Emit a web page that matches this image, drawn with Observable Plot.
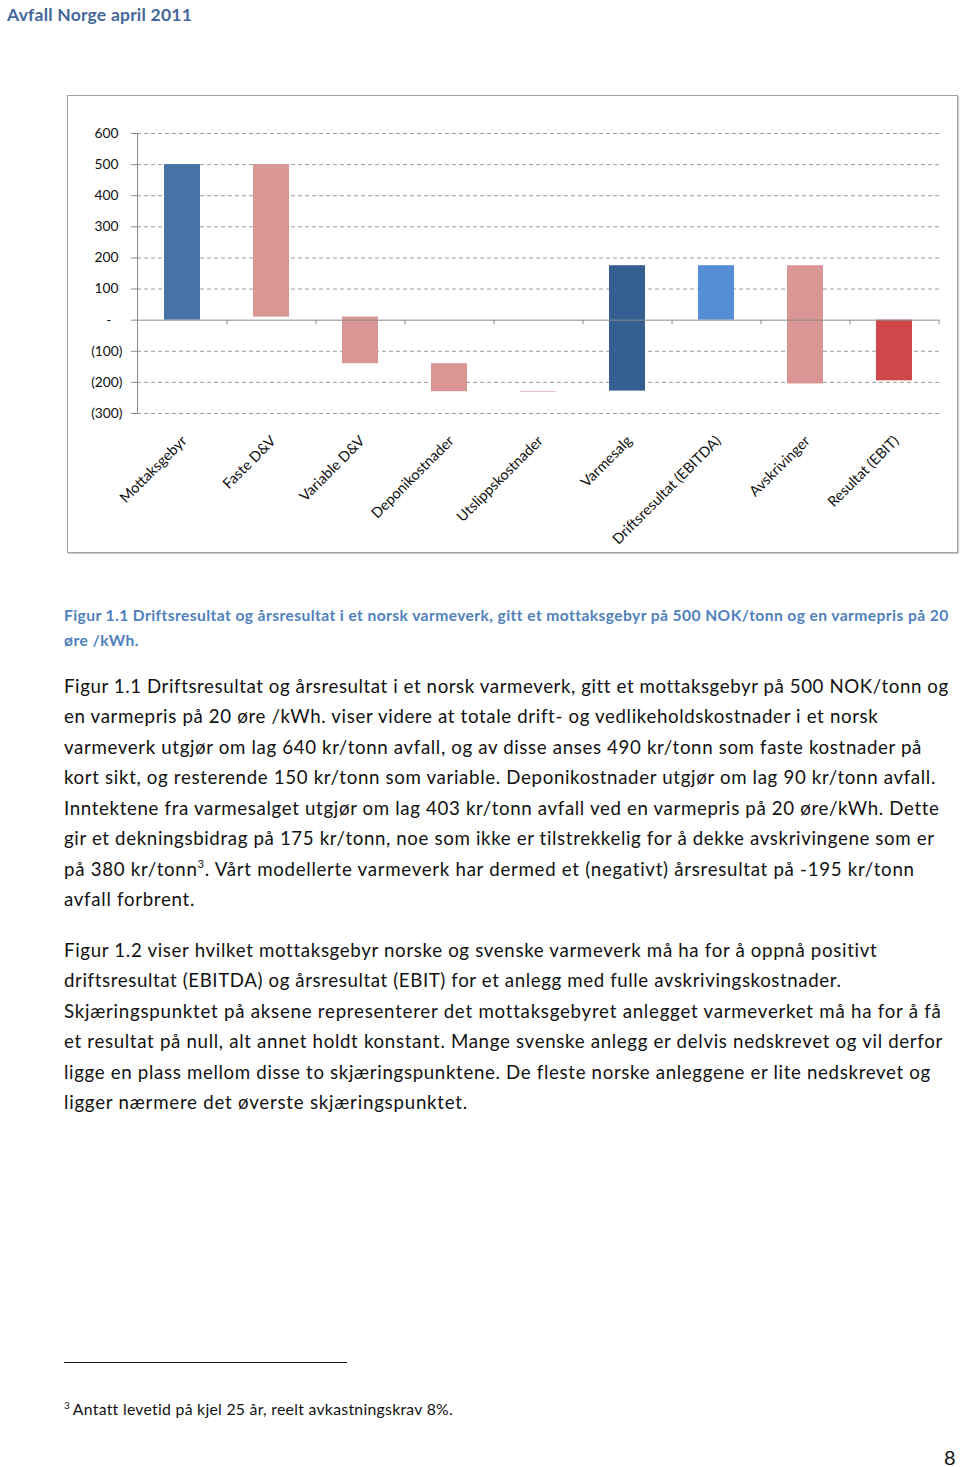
<!DOCTYPE html>
<html>
<head>
<meta charset="utf-8">
<script src="https://cdn.jsdelivr.net/npm/d3@7"></script>
<script src="https://cdn.jsdelivr.net/npm/@observablehq/plot@0.6"></script>
<style>
  html, body { margin: 0; padding: 0; background: #fff; }
  body { width: 960px; height: 1467px; position: relative; overflow: hidden; font-family: Lato, "Open Sans", sans-serif; color: #111; }
  .abs { position: absolute; }
  .ln { display: block; white-space: nowrap; }
  #header { left: 7px; top: 1px; font-size: 17.5px; font-weight: bold; color: #44679b; line-height: 28px; }
  #frame { left: 67px; top: 95px; width: 889px; height: 456px; border: 1px solid #a3a3a3; box-shadow: 1px 1px 1px #d0d0d0; }
  #frame svg { display: block; }
  #caption { left: 64px; top: 602.5px; font-size: 15.6px; font-weight: bold; color: #4f81bd; line-height: 25px; }
  .para { left: 64px; font-size: 18.7px; line-height: 30.5px; }
  #p1 { top: 670.7px; }
  #p2 { top: 934.8px; }
  sup { font-size: 0.6em; line-height: 0; vertical-align: 0.7em; }
  #rule { left: 64px; top: 1362px; width: 283px; border-top: 1.3px solid #111; }
  #foot { left: 64px; top: 1398px; font-size: 15.8px; line-height: 22px; }
  #page { left: 944px; top: 1444px; font-size: 20px; line-height: 26px; }
</style>
</head>
<body>
<div id="header" class="abs"><span class="ln" data-w="185"><span>Avfall Norge april 2011</span></span></div>
<div id="frame" class="abs"></div>

<div id="caption" class="abs">
  <span class="ln" data-w="883"><span>Figur 1.1 Driftsresultat og årsresultat i et norsk varmeverk, gitt et mottaksgebyr på 500 NOK/tonn og en varmepris på 20</span></span>
  <span class="ln" data-w="75"><span>øre /kWh.</span></span>
</div>

<div id="p1" class="abs para">
  <span class="ln" data-w="883"><span>Figur 1.1 Driftsresultat og årsresultat i et norsk varmeverk, gitt et mottaksgebyr på 500 NOK/tonn og</span></span>
  <span class="ln" data-w="814"><span>en varmepris på 20 øre /kWh. viser videre at totale drift- og vedlikeholdskostnader i et norsk</span></span>
  <span class="ln" data-w="858"><span>varmeverk utgjør om lag 640 kr/tonn avfall, og av disse anses 490 kr/tonn som faste kostnader på</span></span>
  <span class="ln" data-w="872"><span>kort sikt, og resterende 150 kr/tonn som variable. Deponikostnader utgjør om lag 90 kr/tonn avfall.</span></span>
  <span class="ln" data-w="875"><span>Inntektene fra varmesalget utgjør om lag 403 kr/tonn avfall ved en varmepris på 20 øre/kWh. Dette</span></span>
  <span class="ln" data-w="871"><span>gir et dekningsbidrag på 175 kr/tonn, noe som ikke er tilstrekkelig for å dekke avskrivingene som er</span></span>
  <span class="ln" data-w="851"><span>på 380 kr/tonn<sup>3</sup>. Vårt modellerte varmeverk har dermed et (negativt) årsresultat på -195 kr/tonn</span></span>
  <span class="ln" data-w="131"><span>avfall forbrent.</span></span>
</div>

<div id="p2" class="abs para">
  <span class="ln" data-w="813"><span>Figur 1.2 viser hvilket mottaksgebyr norske og svenske varmeverk må ha for å oppnå positivt</span></span>
  <span class="ln" data-w="777"><span>driftsresultat (EBITDA) og årsresultat (EBIT) for et anlegg med fulle avskrivingskostnader.</span></span>
  <span class="ln" data-w="877"><span>Skjæringspunktet på aksene representerer det mottaksgebyret anlegget varmeverket må ha for å få</span></span>
  <span class="ln" data-w="879"><span>et resultat på null, alt annet holdt konstant. Mange svenske anlegg er delvis nedskrevet og vil derfor</span></span>
  <span class="ln" data-w="867"><span>ligge en plass mellom disse to skjæringspunktene. De fleste norske anleggene er lite nedskrevet og</span></span>
  <span class="ln" data-w="404"><span>ligger nærmere det øverste skjæringspunktet.</span></span>
</div>

<div id="rule" class="abs"></div>
<div id="foot" class="abs"><sup style="font-size:10px;vertical-align:6px;margin-right:3px">3</sup><span style="display:inline-block;white-space:nowrap" data-w="380" class="fit"><span>Antatt levetid på kjel 25 år, reelt avkastningskrav 8%.</span></span></div>
<div id="page" class="abs">8</div>

<script>
// ---- Data ----
const categories = ["Mottaksgebyr", "Faste D&V", "Variable D&V", "Deponikostnader", "Utslippskostnader", "Varmesalg", "Driftsresultat (EBITDA)", "Avskrivinger", "Resultat (EBIT)"];
const barStart = [0, 500, 10, -140, -230, -228, 0, 175, 0];
const barEnd   = [500, 10, -140, -230, -232, 175, 175, -205, -195];
const barColors = ["#4672a8", "#d99694", "#d99694", "#d99694", "#d99694", "#355f91", "#558ed5", "#d99694", "#d0474a"];
const posTicks = [100, 200, 300, 400, 500, 600];
const zeroTick = [0];
const negTicks = [-300, -200, -100];

const data = categories.map((c, i) => ({cat: c, start: barStart[i], end: barEnd[i], color: barColors[i]}));
const fmt = d => d === 0 ? "-" : d < 0 ? `(${-d})` : `${d}`;
const axisGray = "#8c8c8c";

const W = 889, H = 456, mL = 69, mR = 18;
const step = (W - mL - mR) / categories.length;

const chart = Plot.plot({
  width: W, height: H,
  marginLeft: mL, marginRight: mR, marginTop: 37, marginBottom: 139,
  style: {fontFamily: "Lato, sans-serif", fontSize: "13.8px", color: "#111", background: "transparent"},
  x: {domain: categories, paddingInner: 0.6, paddingOuter: 0.3, axis: null},
  y: {domain: [-300, 600], axis: null, label: null},
  color: {type: "identity"},
  marks: [
    Plot.gridY([...negTicks, ...posTicks], {stroke: "#9a9a9a", strokeOpacity: 1, strokeDasharray: "4,3"}),
    Plot.barY(data, {x: "cat", y1: "start", y2: "end", fill: "color"}),
    Plot.ruleY([0], {stroke: axisGray}),
    Plot.ruleX(categories, {x: d => d, dx: step / 2, y1: 0, y2: -15, stroke: axisGray}),
    Plot.frame({anchor: "left", stroke: axisGray}),
    Plot.axisY(posTicks, {tickSize: 6, tickPadding: 13, tickFormat: fmt, stroke: axisGray, fill: "#111", label: null}),
    Plot.axisY(zeroTick, {tickSize: 6, tickPadding: 20, tickFormat: fmt, stroke: axisGray, fill: "#111", label: null}),
    Plot.axisY(negTicks, {tickSize: 6, tickPadding: 9, tickFormat: fmt, stroke: axisGray, fill: "#111", label: null}),
    Plot.text(categories, {x: d => d, y: -300, dy: 25, dx: 2, rotate: -45, textAnchor: "end", fontSize: 14.5, fill: "#111"})
  ]
});
document.getElementById("frame").appendChild(chart);

// ---- fit text lines to reference widths ----
function fit() {
  document.querySelectorAll("[data-w]").forEach(el => {
    const inner = el.firstElementChild;
    const target = +el.dataset.w;
    inner.style.letterSpacing = "0px";
    const w = inner.getBoundingClientRect().width;
    const n = inner.textContent.length;
    if (n > 1) inner.style.letterSpacing = ((target - w) / n) + "px";
  });
}
fit();
if (document.fonts && document.fonts.ready) document.fonts.ready.then(fit);
</script>
</body>
</html>
